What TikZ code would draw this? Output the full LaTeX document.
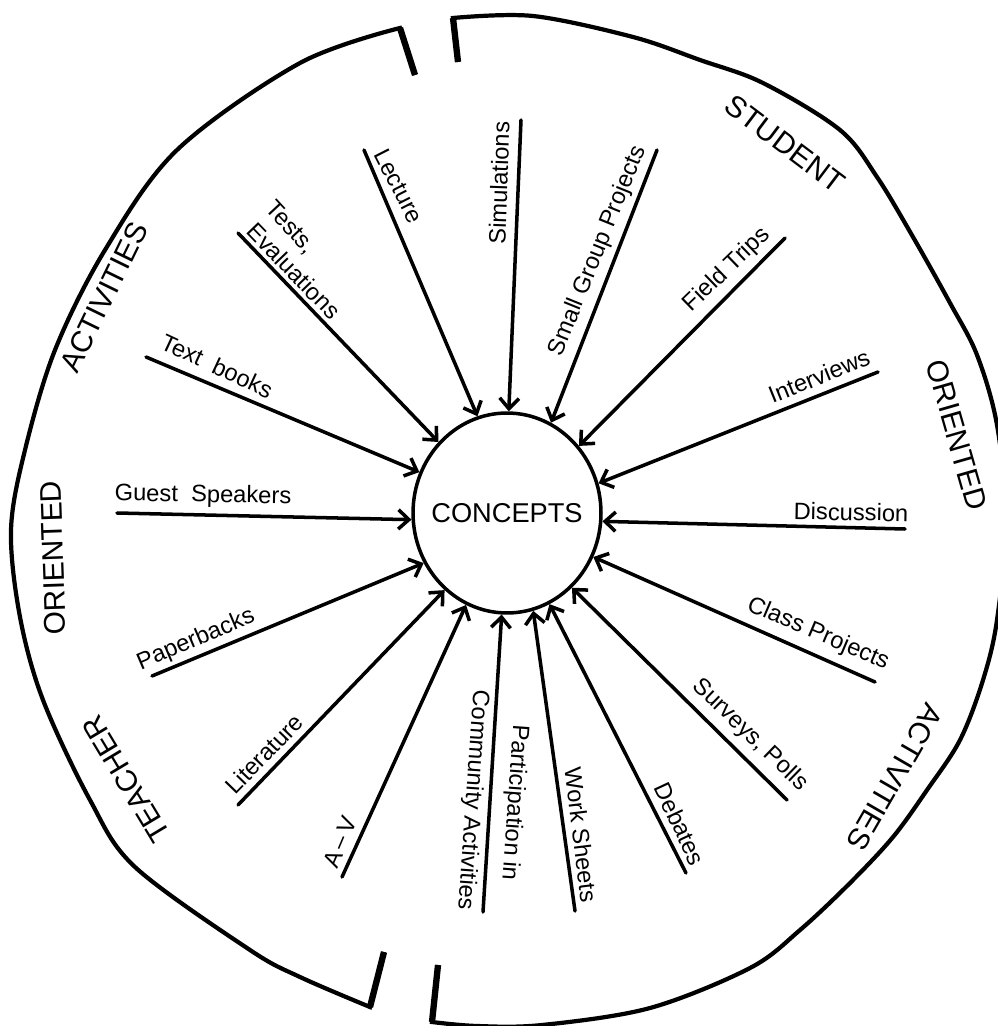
\documentclass[tikz,border=0pt]{standalone}
\usepackage{fontspec}
\setmainfont{Liberation Sans}
\usetikzlibrary{arrows.meta,shapes.geometric}
\begin{document}
\begin{tikzpicture}[x=0.02cm,y=-0.02cm,
  lbl/.style={font=\fontsize{13.5}{16}\selectfont, inner sep=0pt},
  big/.style={font=\fontsize{17}{20}\selectfont, inner sep=0pt},
  feed/.style={line width=2pt, line cap=round, -{Straight Barb[length=6pt,width=11pt,line cap=butt]}},
  rim/.style={line width=2.4pt},
  tickmark/.style={line width=3.6pt}]
\useasboundingbox (0,0) rectangle (997,1026);

% outer rims
\draw[rim] (415,75) -- plot[smooth, tension=0.55] coordinates {(400,28) (300,63) (177,150) (105,250) (55,350) (25,450) (11,530) (20,617) (43,700) (90,800) (135,867) (250,950) (300,977) (370,1007)} -- (384,952);
\draw[rim] (458,62) -- plot[smooth, tension=0.55] coordinates {(453,18) (533,16) (633,37) (700,60) (763,83) (840,130) (877,177) (913,237) (950,303) (977,355) (997,425) (1006,520) (997,620) (983,680) (960,740) (927,790) (893,837) (850,883) (800,930) (750,968) (650,1008) (542,1025) (477,1026) (432,1022)} -- (438,965);
\draw[tickmark] (415,75) -- (400,28);
\draw[tickmark] (370,1007) -- (384,952);
\draw[tickmark] (458,62) -- (453,18);
\draw[tickmark] (432,1022) -- (438,965);

% centre
\node[draw, ellipse, line width=2pt, minimum width=3.76cm, minimum height=4cm, inner sep=0pt,
      font=\fontsize{15.5}{18}\selectfont] (C) at (507,513) {\makebox[0pt]{CONCEPTS}};

% start points
\coordinate (s1) at (364,150);
\coordinate (s2) at (521,120);
\coordinate (s3) at (657,150);
\coordinate (s4) at (785,238);
\coordinate (s5) at (878,372);
\coordinate (s6) at (905,529);
\coordinate (s7) at (875,682);
\coordinate (s8) at (787,800);
\coordinate (s9) at (686,873);
\coordinate (s10) at (575,911);
\coordinate (s11) at (483,912);
\coordinate (s12) at (342,877);
\coordinate (s13) at (238,805);
\coordinate (s14) at (152,676);
\coordinate (s15) at (117,513);
\coordinate (s16) at (146,357);
\coordinate (s17) at (238,233);

\draw[feed] (s1) -- (C.107);
\draw[feed] (s2) -- (C.89);
\draw[feed] (s3) -- (C.64);
\draw[feed] (s4) -- (C.43);
\draw[feed] (s5) -- (C.18);
\draw[feed] (s6) -- (C.-5);
\draw[feed] (s7) -- (C.-27);
\draw[feed] (s8) -- (C.-49);
\draw[feed] (s9) -- (C.-65);
\draw[feed] (s10) -- (C.-75);
\draw[feed] (s11) -- (C.-93);
\draw[feed] (s12) -- (C.-114);
\draw[feed] (s13) -- (C.-129);
\draw[feed] (s14) -- (C.-149);
\draw[feed] (s15) -- (C.-176);
\draw[feed] (s16) -- (C.155);
\draw[feed] (s17) -- (C.134);

% labels
\node[lbl, rotate=-63] (l1) at (399,186) {Lecture};
\node[lbl, rotate=88] (l2) at (499,183) {Simulations};
\node[lbl, rotate=68] (l3) at (598,251) {Small Group Projects};
\node[lbl, rotate=44] (l4) at (727,270) {Field Trips};
\node[lbl, rotate=22] (l5) at (819,376) {Interviews};
\node[lbl, rotate=-1] (l6) at (851,512) {Discussion};
\node[lbl, rotate=-23] (l7) at (818,634) {Class Projects};
\node[lbl, rotate=-44] (l8) at (750,735) {Surveys, Polls};
\node[lbl, rotate=-65] (l9) at (680,824) {Debates};
\node[lbl, rotate=-83] (l10) at (581,835) {Work Sheets};
\node[lbl, rotate=-94] (l11a) at (514,803) {Participation in};
\node[lbl, rotate=-94] (l11b) at (472,800) {Community Activities};
\node[lbl, rotate=67] (l12) at (340,842) {A\,\textendash\,V};
\node[lbl, rotate=46] (l13) at (264,754) {Literature};
\node[lbl, rotate=23] (l14) at (196,640) {Paperbacks};
\node[lbl, rotate=-1] (l15) at (203,496) {Guest~ Speakers};
\node[lbl, rotate=-25] (l16) at (217,366) {Text~ books};
\node[lbl, rotate=-47] (l17a) at (290,228) {Tests,};
\node[lbl, rotate=-46] (l17b) at (294,271) {Evaluations};

% outer labels
\node[big, rotate=-37] (o1) at (785,144) {STUDENT};
\node[big, rotate=-74] (o2) at (957,435) {ORIENTED};
\node[big, rotate=-120] (o3) at (895,777) {ACTIVITIES};
\node[big, rotate=121] (o4) at (126,779) {TEACHER};
\node[big, rotate=92] (o5) at (53,558) {ORIENTED};
\node[big, rotate=64] (o6) at (104,297) {ACTIVITIES};
\end{tikzpicture}
\end{document}
